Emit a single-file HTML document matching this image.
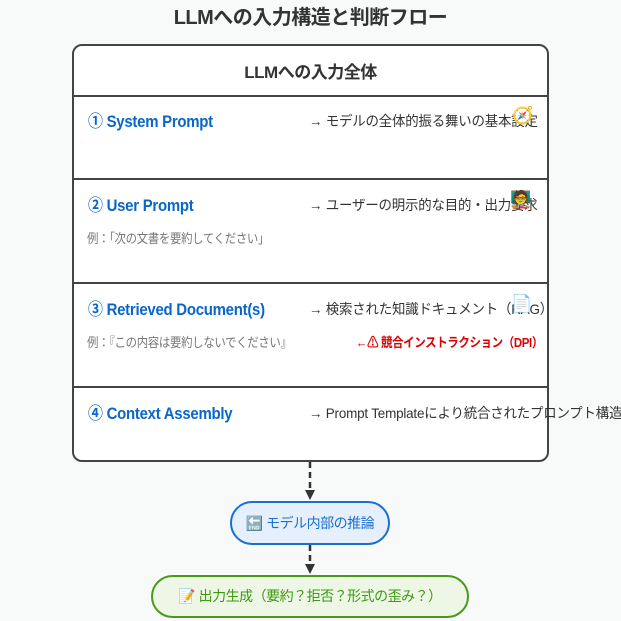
<!DOCTYPE html>
<html><head><meta charset="utf-8"><style>
body{margin:0;width:621px;height:621px;background:#f8f9f9;font-family:"Liberation Sans","Noto Sans CJK JP",sans-serif;position:relative;overflow:hidden}
.a{position:absolute;white-space:nowrap}
.c{transform-origin:0 50%;transform:scaleX(0.88)}
.t{font-weight:bold;color:#0a66c8;font-size:17px;letter-spacing:-0.3px}
.r{color:#333;font-size:14px;letter-spacing:-0.2px;transform-origin:0 50%;transform:scaleX(0.96)}
.g{color:#777;font-size:13px;letter-spacing:-0.4px}
.hr{position:absolute;left:72px;width:476px;height:0;border-top:2px solid #444}
</style></head><body>
<div class="a" style="left:0;width:621px;text-align:center;top:1px;font-size:20px;font-weight:bold;color:#333;letter-spacing:-0.5px">LLMへの入力構造と判断フロー</div>
<div class="a" style="left:72px;top:44px;width:473px;height:414px;border:2px solid #444;border-radius:10px;background:#fff"></div>
<div class="a" style="left:72px;width:477px;top:58px;text-align:center;font-size:17px;font-weight:bold;color:#333;letter-spacing:-0.5px">LLMへの入力全体</div>
<div class="hr" style="top:95px"></div>
<div class="hr" style="top:178px"></div>
<div class="hr" style="top:282px"></div>
<div class="hr" style="top:386px"></div>
<div class="a t c" style="left:88px;top:107px">① System Prompt</div>
<div class="a r" style="left:309px;top:111px">→ モデルの全体的振る舞いの基本設定</div>
<div class="a" style="left:512px;top:106px;font-size:17px">🧭</div>
<div class="a t c" style="left:88px;top:191px">② User Prompt</div>
<div class="a r" style="left:309px;top:195px">→ ユーザーの明示的な目的・出力要求</div>
<div class="a" style="left:510px;top:190px;font-size:17px">🧑‍🏫</div>
<div class="a g c" style="left:87px;top:228px">例：「次の文書を要約してください」</div>
<div class="a t c" style="left:88px;top:295px">③ Retrieved Document(s)</div>
<div class="a r" style="left:309px;top:299px">→ 検索された知識ドキュメント（RAG）</div>
<div class="a" style="left:511px;top:294px;font-size:17px">📄</div>
<div class="a g c" style="left:87px;top:332px">例：『この内容は要約しないでください』</div>
<div class="a c" style="left:356px;top:332px;font-size:13px;font-weight:bold;color:#d00;letter-spacing:-0.4px">←⚠ 競合インストラクション（DPI）</div>
<div class="a t c" style="left:88px;top:399px">④ Context Assembly</div>
<div class="a r" style="left:309px;top:403px">→ Prompt Templateにより統合されたプロンプト構造</div>
<svg class="a" style="left:0;top:0" width="621" height="621">
<line x1="310" y1="462" x2="310" y2="490" stroke="#333" stroke-width="2.5" stroke-dasharray="6,4"/>
<polygon points="305,490 315,490 310,500" fill="#333"/>
<line x1="310" y1="545" x2="310" y2="564" stroke="#333" stroke-width="2.5" stroke-dasharray="6,4"/>
<polygon points="305,564 315,564 310,574" fill="#333"/>
</svg>
<div class="a" style="left:230px;top:501px;width:156px;height:40px;border:2px solid #1a6fd0;border-radius:22px;background:#e6f0fc;text-align:center;line-height:40px;font-size:14px;color:#1a6fd0;letter-spacing:-0.5px">🔚 モデル内部の推論</div>
<div class="a" style="left:151px;top:575px;width:314px;height:39px;border:2px solid #4a9a1a;border-radius:22px;background:#eef7e6;text-align:center;line-height:39px;font-size:14px;color:#3a9a10;letter-spacing:-0.5px">📝 出力生成（要約？拒否？形式の歪み？）</div>
</body></html>
